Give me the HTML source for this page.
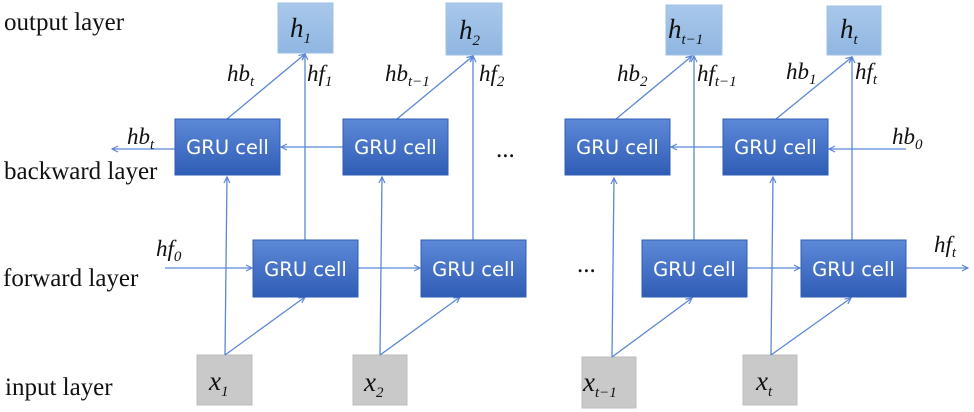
<!DOCTYPE html>
<html><head><meta charset="utf-8"><style>
html,body{margin:0;padding:0;background:#fff;}
svg{display:block}
.lbl{font-family:"Liberation Serif",serif;font-size:25px;fill:#111}
.m{font-family:"Liberation Serif",serif;font-style:italic;font-size:23px;fill:#111}
.big{font-size:27px}
.s{font-size:15px}
.g{font-family:"DejaVu Sans","Liberation Sans",sans-serif;font-size:19.5px;fill:#fff}
.ln{stroke:#5b87d6;stroke-width:1.3;fill:none}
</style></head><body>
<svg width="974" height="412" viewBox="0 0 974 412" xmlns="http://www.w3.org/2000/svg">
<defs>
<linearGradient id="gb" x1="0" y1="0" x2="0" y2="1"><stop offset="0" stop-color="#5d89d8"/><stop offset="1" stop-color="#2f5db5"/></linearGradient>
<linearGradient id="go" x1="0" y1="0" x2="0" y2="1"><stop offset="0" stop-color="#a9c8ea"/><stop offset="1" stop-color="#8fb6e2"/></linearGradient>
<marker id="a" markerWidth="8" markerHeight="8" refX="7" refY="4" orient="auto" markerUnits="userSpaceOnUse"><path d="M1,1 L7,4 L1,7" fill="none" stroke="#5b87d6" stroke-width="1.2"/></marker>
</defs>
<text class="lbl" x="4" y="30">output layer</text>
<text class="lbl" x="4" y="179">backward layer</text>
<text class="lbl" x="3" y="286">forward layer</text>
<text class="lbl" x="5" y="395">input layer</text>

<rect x="278" y="3" width="55" height="50" fill="url(#go)" stroke="#9fc0e6"/>
<rect x="446" y="3" width="56" height="52" fill="url(#go)" stroke="#9fc0e6"/>
<rect x="666" y="5" width="56" height="50" fill="url(#go)" stroke="#9fc0e6"/>
<rect x="827" y="6" width="54" height="49" fill="url(#go)" stroke="#9fc0e6"/>
<text class="m big" x="290" y="37">h<tspan class="s" dy="6">1</tspan></text>
<text class="m big" x="459" y="39">h<tspan class="s" dy="6">2</tspan></text>
<text class="m big" x="668" y="38">h<tspan class="s" dy="6">t−1</tspan></text>
<text class="m big" x="840" y="38">h<tspan class="s" dy="6">t</tspan></text>

<rect x="197" y="355" width="55" height="50" fill="#c9c9c9" stroke="#bdbdbd"/>
<rect x="353" y="355" width="54" height="50" fill="#c9c9c9" stroke="#bdbdbd"/>
<rect x="582" y="357" width="54" height="51" fill="#c9c9c9" stroke="#bdbdbd"/>
<rect x="743" y="355" width="54" height="50" fill="#c9c9c9" stroke="#bdbdbd"/>
<text class="m big" x="209" y="390">x<tspan class="s" dy="6">1</tspan></text>
<text class="m big" x="364" y="391">x<tspan class="s" dy="6">2</tspan></text>
<text class="m big" x="583" y="391">x<tspan class="s" dy="6">t−1</tspan></text>
<text class="m big" x="756" y="390">x<tspan class="s" dy="6">t</tspan></text>

<g class="ln">
<line x1="225" y1="355" x2="227" y2="177" marker-end="url(#a)"/>
<line x1="225" y1="355" x2="305" y2="297" marker-end="url(#a)"/>
<line x1="305" y1="240" x2="305" y2="54" marker-end="url(#a)"/>
<line x1="227" y1="119" x2="305" y2="54" marker-end="url(#a)"/>
<line x1="343" y1="147" x2="281" y2="147" marker-end="url(#a)"/>
<line x1="175" y1="149" x2="112" y2="149" marker-end="url(#a)"/>
<line x1="165" y1="268" x2="252" y2="268" marker-end="url(#a)"/>
<line x1="358" y1="268" x2="420" y2="268" marker-end="url(#a)"/>

<line x1="380" y1="355" x2="382" y2="177" marker-end="url(#a)"/>
<line x1="380" y1="355" x2="460" y2="297" marker-end="url(#a)"/>
<line x1="473" y1="240" x2="473" y2="56" marker-end="url(#a)"/>
<line x1="397" y1="119" x2="473" y2="56" marker-end="url(#a)"/>

<line x1="612" y1="357" x2="614" y2="178" marker-end="url(#a)"/>
<line x1="612" y1="357" x2="692" y2="298" marker-end="url(#a)"/>
<line x1="694" y1="240" x2="694" y2="56" marker-end="url(#a)"/>
<line x1="616" y1="119" x2="692" y2="56" marker-end="url(#a)"/>
<line x1="723" y1="147" x2="671" y2="147" marker-end="url(#a)"/>
<line x1="747" y1="268" x2="800" y2="268" marker-end="url(#a)"/>

<line x1="771" y1="355" x2="773" y2="177" marker-end="url(#a)"/>
<line x1="771" y1="355" x2="851" y2="298" marker-end="url(#a)"/>
<line x1="852" y1="240" x2="852" y2="57" marker-end="url(#a)"/>
<line x1="776" y1="119" x2="852" y2="57" marker-end="url(#a)"/>
<line x1="906" y1="149" x2="829" y2="149" marker-end="url(#a)"/>
<line x1="906" y1="268" x2="968" y2="268" marker-end="url(#a)"/>
</g>

<g>
<rect x="175" y="119" width="105" height="56" fill="url(#gb)" stroke="#2f5db5"/>
<rect x="343" y="119" width="105" height="56" fill="url(#gb)" stroke="#2f5db5"/>
<rect x="565" y="119" width="105" height="56" fill="url(#gb)" stroke="#2f5db5"/>
<rect x="723" y="119" width="105" height="56" fill="url(#gb)" stroke="#2f5db5"/>
<rect x="253" y="240" width="105" height="57" fill="url(#gb)" stroke="#2f5db5"/>
<rect x="421" y="240" width="105" height="57" fill="url(#gb)" stroke="#2f5db5"/>
<rect x="642" y="240" width="105" height="57" fill="url(#gb)" stroke="#2f5db5"/>
<rect x="801" y="240" width="105" height="57" fill="url(#gb)" stroke="#2f5db5"/>
</g>
<g class="g" text-anchor="middle">
<text x="227.5" y="154">GRU cell</text>
<text x="395.5" y="154">GRU cell</text>
<text x="617.5" y="154">GRU cell</text>
<text x="775.5" y="154">GRU cell</text>
<text x="305.5" y="276">GRU cell</text>
<text x="473.5" y="276">GRU cell</text>
<text x="694.5" y="276">GRU cell</text>
<text x="853.5" y="276">GRU cell</text>
</g>
<text class="lbl" x="496" y="157">...</text>
<text class="lbl" x="577" y="272">...</text>

<text class="m" x="227" y="81">hb<tspan class="s" dy="5">t</tspan></text>
<text class="m" x="307" y="81">hf<tspan class="s" dy="5">1</tspan></text>
<text class="m" x="385" y="81">hb<tspan class="s" dy="5">t−1</tspan></text>
<text class="m" x="479" y="81">hf<tspan class="s" dy="5">2</tspan></text>
<text class="m" x="617" y="81">hb<tspan class="s" dy="5">2</tspan></text>
<text class="m" x="697" y="81">hf<tspan class="s" dy="5">t−1</tspan></text>
<text class="m" x="786" y="79">hb<tspan class="s" dy="5">1</tspan></text>
<text class="m" x="855" y="79">hf<tspan class="s" dy="5">t</tspan></text>
<text class="m" x="892" y="144">hb<tspan class="s" dy="5">0</tspan></text>
<text class="m" x="934" y="252">hf<tspan class="s" dy="5">t</tspan></text>
<text class="m" x="127" y="144">hb<tspan class="s" dy="5">t</tspan></text>
<text class="m" x="156" y="256">hf<tspan class="s" dy="5">0</tspan></text>
</svg>
</body></html>
